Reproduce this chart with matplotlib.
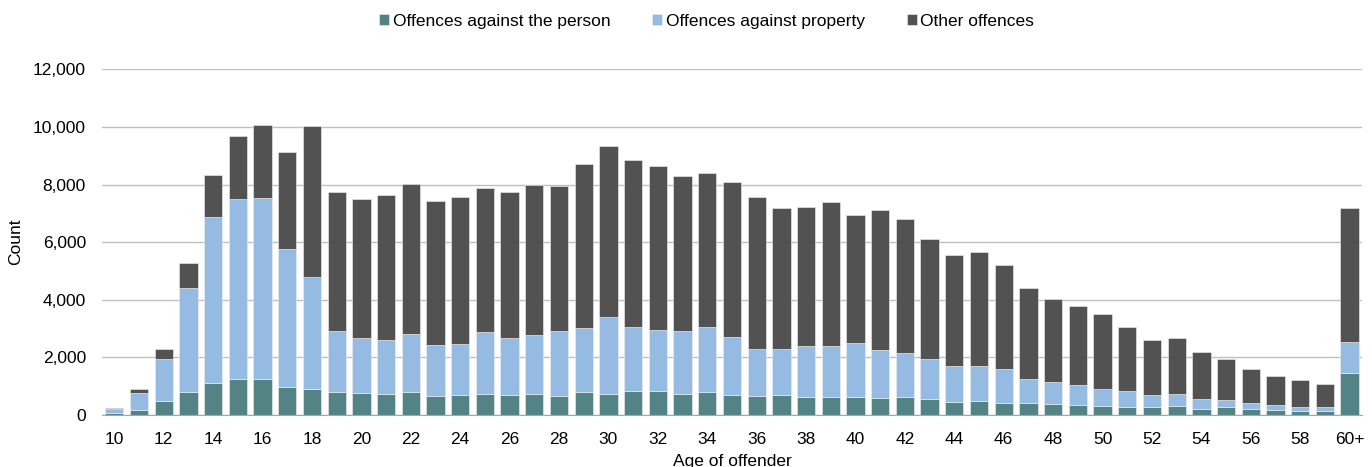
import matplotlib
matplotlib.use('agg')
import matplotlib.pyplot as plt
import numpy as np

plt.rcParams['font.family'] = ['Liberation Sans', 'DejaVu Sans']

ages = [str(a) for a in range(10, 60)] + ['60+']

person = [70, 160, 470, 810, 1100, 1260, 1260, 980, 910, 810,
          750, 720, 810, 650, 690, 720, 680, 740, 650, 790,
          740, 830, 830, 740, 800, 690, 650, 680, 620, 610,
          610, 580, 620, 540, 440, 470, 420, 400, 370, 360,
          320, 270, 270, 300, 200, 270, 200, 160, 150, 130,
          1470]
property_ = [150, 620, 1460, 3590, 5760, 6240, 6290, 4800, 3870, 2100,
             1930, 1870, 2010, 1790, 1780, 2170, 2000, 2050, 2250, 2220,
             2670, 2240, 2120, 2160, 2260, 2010, 1650, 1620, 1760, 1790,
             1890, 1680, 1540, 1390, 1250, 1240, 1190, 840, 790, 680,
             600, 580, 430, 430, 360, 260, 220, 200, 140, 140,
             1050]
other = [40, 120, 370, 870, 1470, 2170, 2510, 3340, 5250, 4830,
         4830, 5040, 5210, 4990, 5100, 4990, 5060, 5180, 5040, 5710,
         5920, 5780, 5680, 5410, 5340, 5380, 5280, 4890, 4830, 5010,
         4450, 4860, 4640, 4190, 3880, 3950, 3610, 3180, 2860, 2730,
         2590, 2220, 1900, 1940, 1630, 1410, 1180, 990, 910, 810,
         4680]

c_person = '#548385'
c_prop = '#95BBE2'
c_other = '#525252'
fs = 12.5

fig = plt.figure(figsize=(13.72, 4.67), dpi=100)
ax = fig.add_axes([0.0743, 0.1113, 0.9184, 0.7403])

x = np.arange(len(ages))
person = np.array(person)
property_ = np.array(property_)
other = np.array(other)

w = 0.74
ax.bar(x, person, w, color=c_person, edgecolor='#f0f0f0', lw=0.4,
       label='Offences against the person', zorder=3)
ax.bar(x, property_, w, bottom=person, color=c_prop, edgecolor='#f0f0f0', lw=0.4,
       label='Offences against property', zorder=3)
ax.bar(x, other, w, bottom=person + property_, color=c_other, edgecolor='#f0f0f0', lw=0.4,
       label='Other offences', zorder=3)

ax.set_xlim(-0.5, len(ages) - 0.5)
ax.set_ylim(0, 12000)
ax.set_yticks(np.arange(0, 12001, 2000))
ax.set_yticklabels(['{:,}'.format(v) for v in range(0, 12001, 2000)])
ax.set_xticks(x[::2])
ax.set_xticklabels(ages[::2])
ax.tick_params(axis='both', length=0, labelsize=fs, colors='#000000')
ax.tick_params(axis='x', pad=12)
ax.tick_params(axis='y', pad=11.5)
ax.grid(axis='y', color='#c0c0c0', lw=1, zorder=0)
for s in ['top', 'right', 'left']:
    ax.spines[s].set_visible(False)
ax.spines['bottom'].set_color('#a6a6a6')
ax.spines['bottom'].set_zorder(4)

ax.set_ylabel('Count', fontsize=fs, labelpad=7)
ax.set_xlabel('Age of offender', fontsize=fs, labelpad=5)

fig.legend(loc='center', bbox_to_anchor=(0.515, 0.955), ncol=3, frameon=False,
           fontsize=fs, handlelength=0.6, handleheight=0.6, handletextpad=0.2,
           columnspacing=2.4)

plt.savefig('out.png', dpi=100)
